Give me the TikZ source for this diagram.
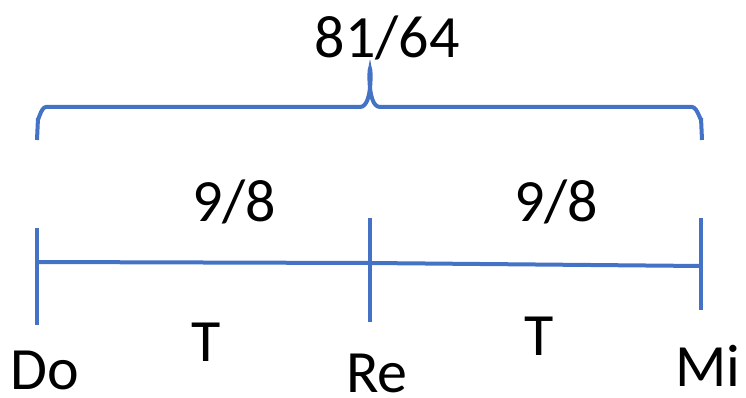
\documentclass[tikz,border=0pt]{standalone}
\usepackage{fontspec}
\setmainfont{Carlito}
\definecolor{lineblue}{HTML}{4472C4}
\begin{document}
\begin{tikzpicture}[x=1pt,y=-1pt,
  bl/.style={draw=lineblue,line width=4pt},
  lbl/.style={font=\fontsize{60}{72}\selectfont,anchor=base,inner sep=0pt}]
\useasboundingbox (0,0) rectangle (746,398);
% brace
\coordinate (bl) at (37,140);
\coordinate (br) at (702,140);
\coordinate (tip) at (370,72);
\draw[bl,line cap=butt] (bl) -- (38,118) to[out=-90,in=180] (46,107) -- (360,107)
  to[out=0,in=90] (tip) to[out=90,in=180] (380,107) -- (692,107)
  to[out=0,in=-90] (701,118) -- (br);
% main line
\coordinate (do1) at (37,228);
\coordinate (do2) at (37,325);
\coordinate (re1) at (370,218);
\coordinate (re2) at (370,322);
\coordinate (mi1) at (701,218);
\coordinate (mi2) at (701,310);
\coordinate (l1) at (37,262);
\coordinate (l2) at (370,263);
\coordinate (l3) at (701,266);
\draw[bl] (do1) -- (do2);
\draw[bl] (re1) -- (re2);
\draw[bl] (mi1) -- (mi2);
\draw[bl] (l1) -- (l2) -- (l3);
% labels
\node[lbl] (t81) at (387,58) {81/64};
\node[lbl] (n1) at (234,221) {9/8};
\node[lbl] (n2) at (556,221) {9/8};
\node[lbl] (t1) at (206,361) {T};
\node[lbl] (t2) at (539,355) {T};
\node[lbl] (do) at (45,389) {Do};
\node[lbl] (re) at (377,392) {Re};
\node[lbl] (mi) at (708,386) {Mi};
\end{tikzpicture}
\end{document}
